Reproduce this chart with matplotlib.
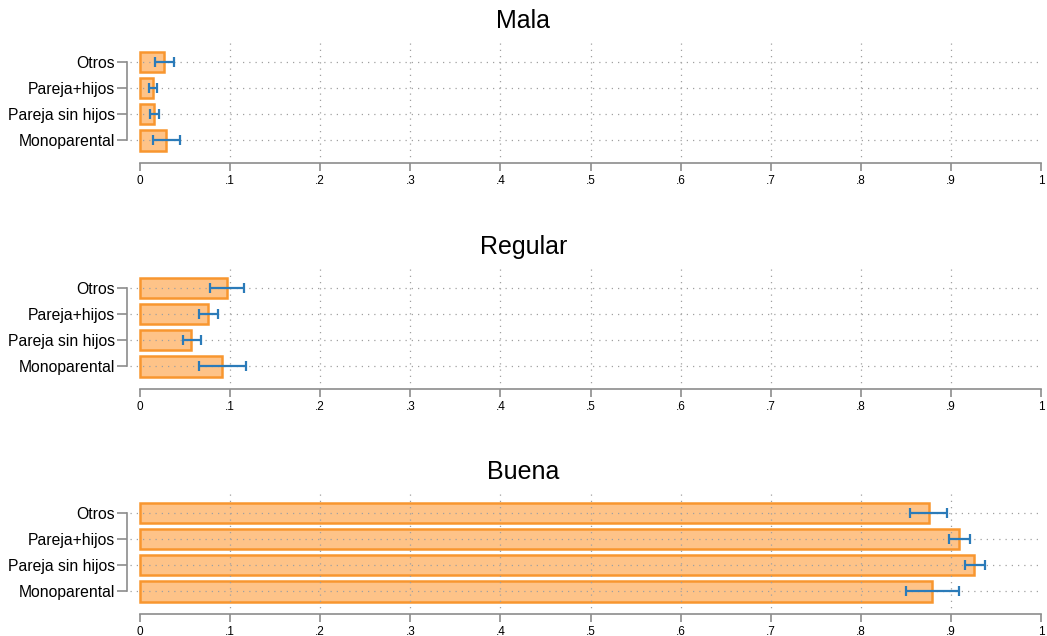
import numpy as np
import matplotlib
matplotlib.use("Agg")
import matplotlib.pyplot as plt

plt.rcParams['font.family'] = ['Liberation Sans', 'DejaVu Sans']

categories = ["Monoparental", "Pareja sin hijos", "Pareja+hijos", "Otros"]
panels = ["Mala", "Regular", "Buena"]

# share, lower CI, upper CI (order: Monoparental, Pareja sin hijos, Pareja+hijos, Otros)
mala = [0.029, 0.016, 0.0144, 0.027]
mala_lo = [0.0144, 0.011, 0.010, 0.017]
mala_hi = [0.044, 0.021, 0.019, 0.038]

regular = [0.0915, 0.057, 0.0759, 0.0963]
regular_lo = [0.066, 0.0478, 0.0656, 0.078]
regular_hi = [0.1178, 0.0674, 0.0867, 0.1156]

buena = [0.879, 0.926, 0.909, 0.8757]
buena_lo = [0.850, 0.916, 0.898, 0.855]
buena_hi = [0.909, 0.9375, 0.9215, 0.896]

values = [mala, regular, buena]
lows = [mala_lo, regular_lo, buena_lo]
highs = [mala_hi, regular_hi, buena_hi]

xticks = np.arange(0, 1.01, 0.1)
xlabels = ["0", ".1", ".2", ".3", ".4", ".5", ".6", ".7", ".8", ".9", "1"]

W, H = 1047, 636
fig = plt.figure(figsize=(W / 100, H / 100), dpi=100)

# (top, bottom) pixel rows of each plot region, title centre row
rows = [(42, 163), (268, 389), (493, 614)]
title_rows = [21, 247, 472]
left_px, right_px = 130, 1041

bar_fill = "#FEC388"
bar_edge = "#F8962F"
err_col = "#2B7BB9"
axis_col = "#8C8C8C"

for i, (name, top_bot) in enumerate(zip(panels, rows)):
    top, bot = top_bot
    ax = fig.add_axes([left_px / W, 1 - bot / H, (right_px - left_px) / W, (bot - top) / H])
    y = np.arange(len(categories))
    v = np.array(values[i])
    lo = np.array(lows[i])
    hi = np.array(highs[i])

    ax.barh(y, v, height=0.8, color=bar_fill, edgecolor=bar_edge, linewidth=1.8, zorder=2)
    ax.hlines(y, lo, hi, color=err_col, linewidth=1.6, zorder=4)
    ax.plot(lo, y, linestyle="none", marker="|", markersize=6.5, markeredgewidth=1.6, color=err_col, zorder=4)
    ax.plot(hi, y, linestyle="none", marker="|", markersize=6.5, markeredgewidth=1.6, color=err_col, zorder=4)

    # dotted grid drawn on top of bars
    for xv in xticks[1:-1]:
        ax.axvline(xv, color="#A0A0A0", linestyle=(0, (1, 4)), linewidth=0.9, zorder=3)
    for yv in y:
        ax.axhline(yv, color="#A0A0A0", linestyle=(0, (1, 4)), linewidth=0.9, zorder=3)

    ax.set_xlim(-0.0111, 1.0)
    ax.set_ylim(-0.88, 3.77)

    ax.set_xticks(xticks)
    ax.set_xticklabels(xlabels)
    ax.set_yticks(y)
    ax.set_yticklabels(categories)

    for s in ["top", "right"]:
        ax.spines[s].set_visible(False)
    ax.spines["bottom"].set_bounds(0, 1)
    ax.spines["bottom"].set_color(axis_col)
    ax.spines["bottom"].set_linewidth(1.2)
    ax.spines["left"].set_bounds(0, 3)
    ax.spines["left"].set_position(("outward", 2))
    ax.spines["left"].set_color(axis_col)
    ax.spines["left"].set_linewidth(1.2)
    ax.tick_params(axis="x", colors=axis_col, labelcolor="black", labelsize=8.5,
                   length=5.5, width=1.2, pad=3)
    ax.tick_params(axis="y", colors=axis_col, labelcolor="black", labelsize=11.3,
                   length=7, width=1.2, pad=2)

    fig.text(0.5, 1 - title_rows[i] / H, name, fontsize=18, ha="center", va="center")

fig.savefig("out.png", dpi=100)
